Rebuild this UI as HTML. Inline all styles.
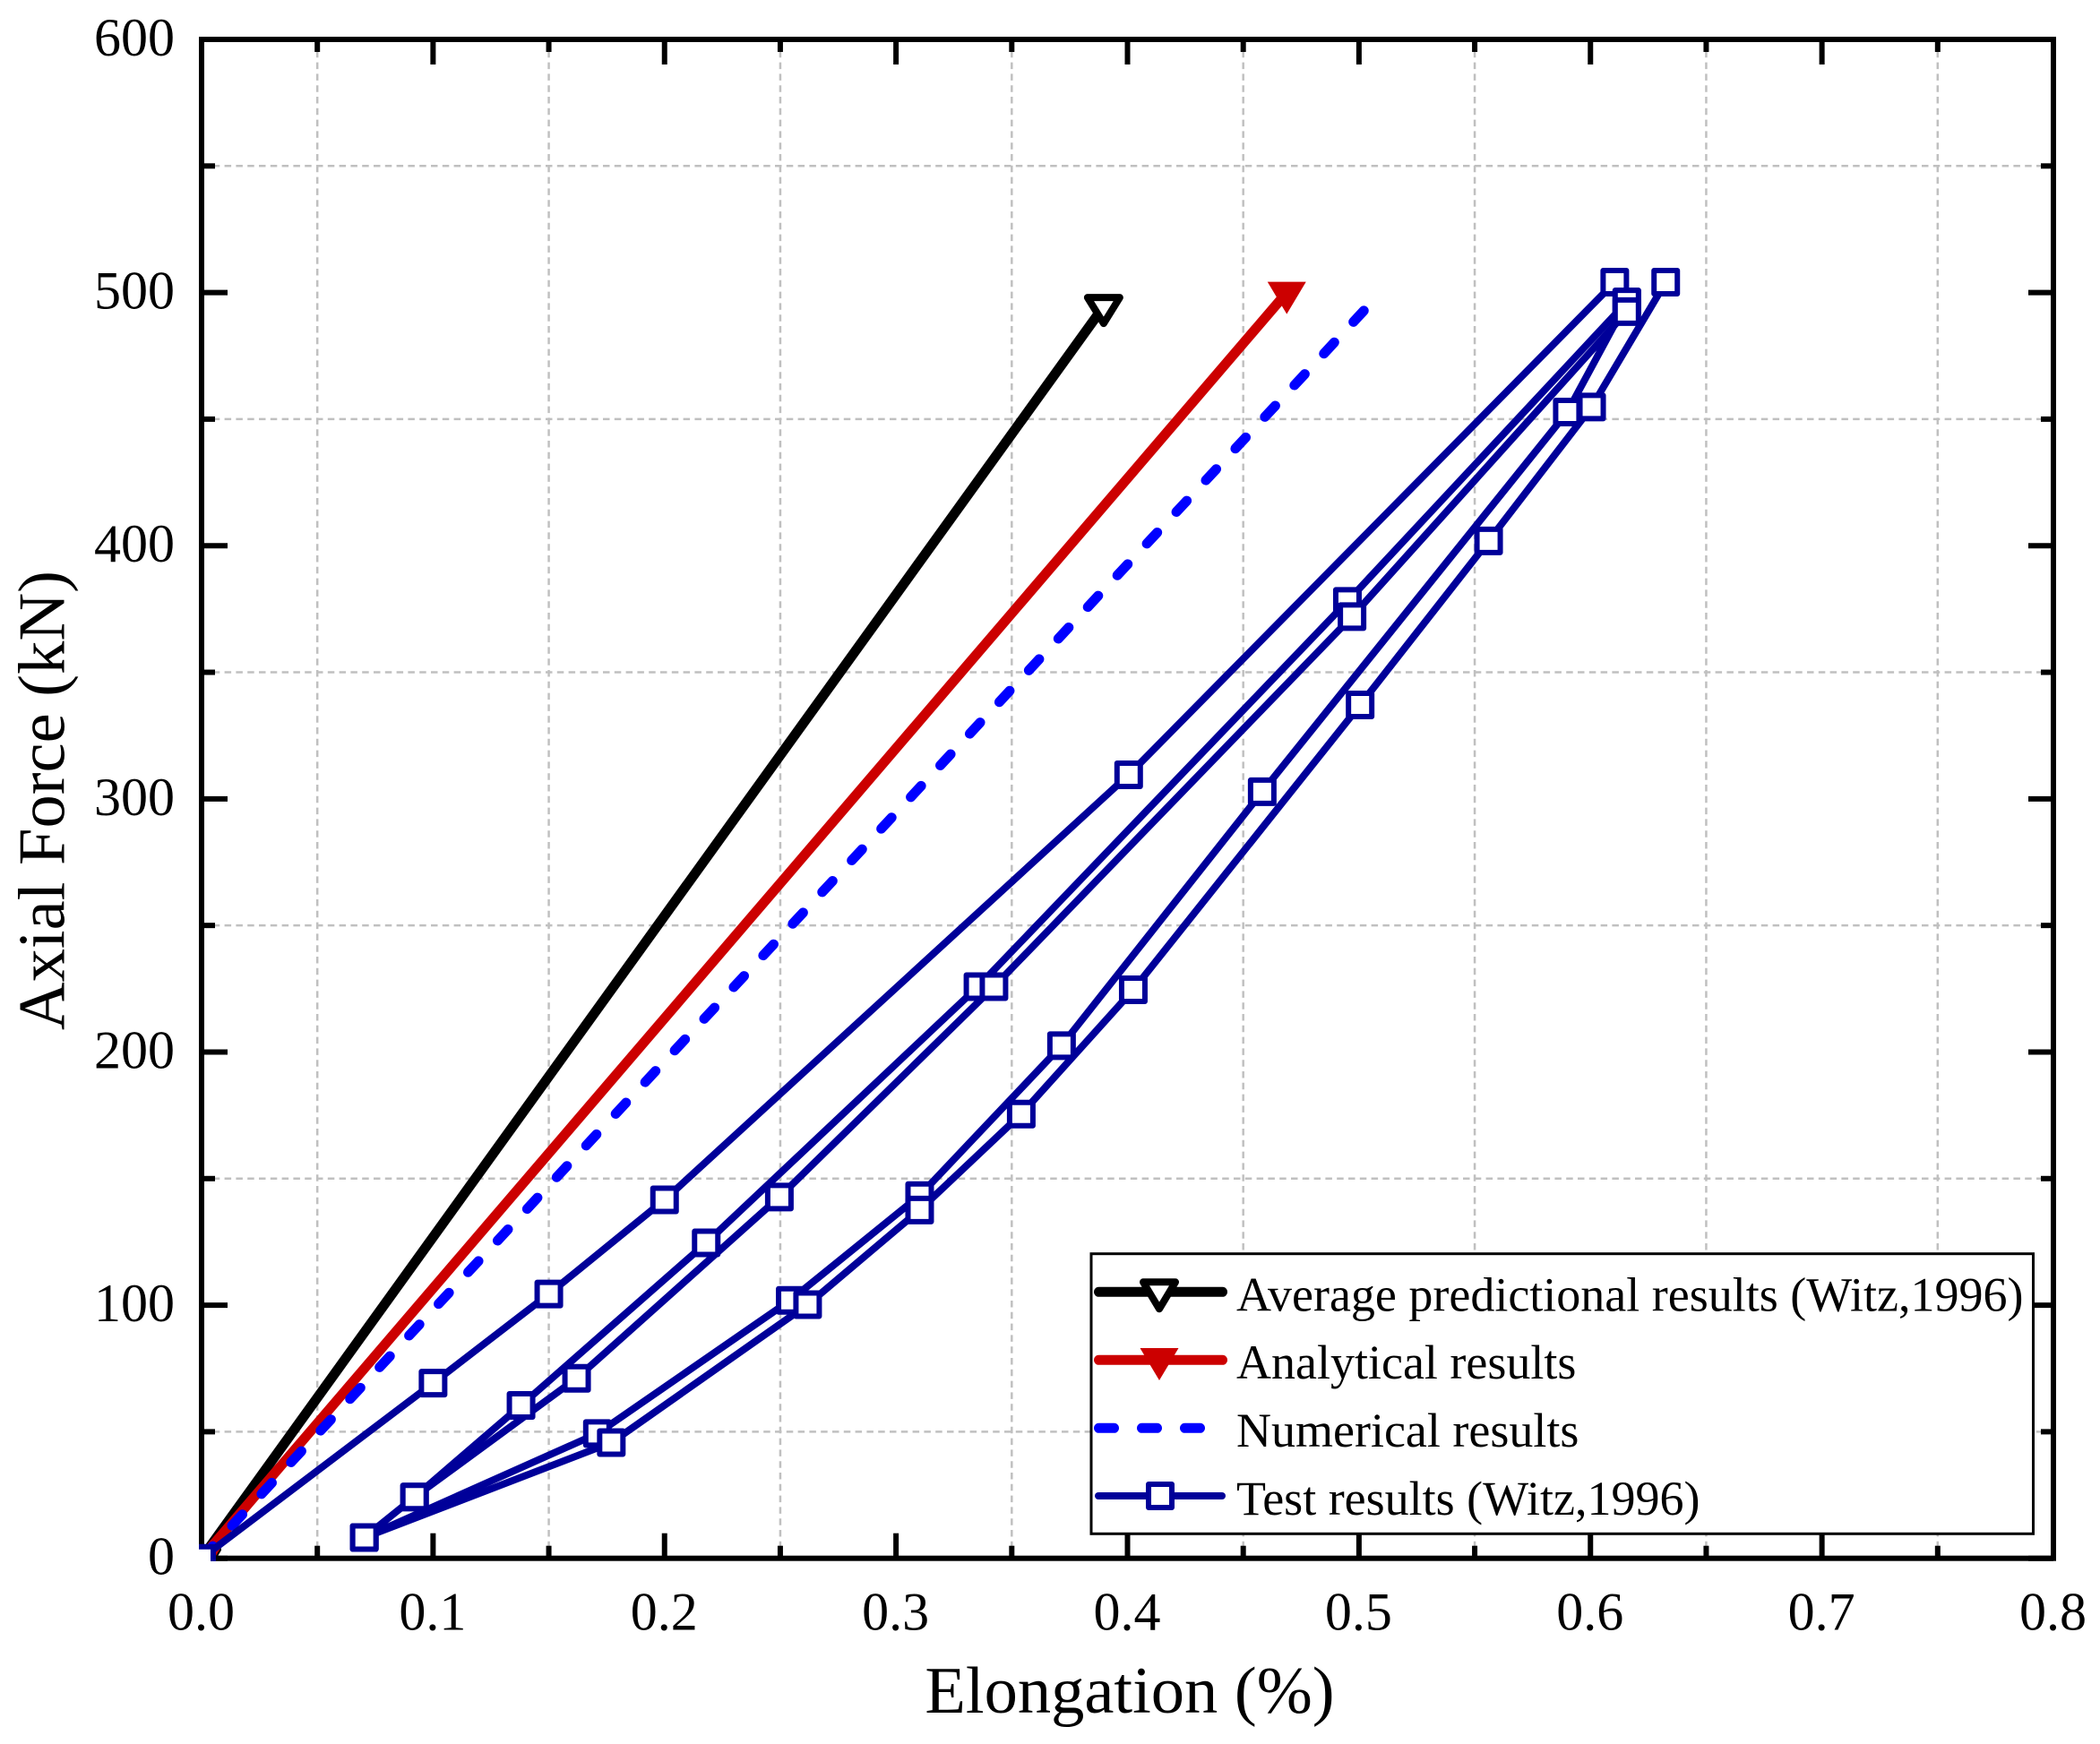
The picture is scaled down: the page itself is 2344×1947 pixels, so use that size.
<!DOCTYPE html>
<html lang="en">
<head>
<meta charset="utf-8">
<title>Axial Force vs Elongation</title>
<style>
html,body{margin:0;padding:0;background:#fff;}
svg{display:block;}
text{font-family:"Liberation Serif","Times New Roman",serif;fill:#000;}
</style>
</head>
<body>
<svg id="chart" xmlns="http://www.w3.org/2000/svg" width="2344" height="1947" viewBox="0 0 2344 1947">
  <defs>
    <clipPath id="plot-clip"><rect x="222" y="41" width="2073" height="1702"/></clipPath>
  </defs>
  <rect x="0" y="0" width="2344" height="1947" fill="#ffffff"/>
  <g id="grid"></g>
  <g id="ticks"></g>
  <rect x="225" y="44" width="2067" height="1695.7" fill="none" stroke="#000" stroke-width="6"/>
  <g id="tick-labels" font-size="60"></g>
  <g id="series" clip-path="url(#plot-clip)"></g>
  <text x="1261" y="1912" font-size="74.5" text-anchor="middle">Elongation (%)</text>
  <text x="0" y="0" font-size="74.5" text-anchor="middle" transform="translate(71.7 893.6) rotate(-90)">Axial Force (kN)</text>

  <g>
    <rect x="1218" y="1399.7" width="1051.5" height="312.6" fill="#fff" stroke="#000" stroke-width="3"/>
    <g>
      <line x1="1226.5" y1="1442.3" x2="1364.5" y2="1442.3" stroke="#000" stroke-width="11" stroke-linecap="round"/>
      <polygon points="1276,1431.3 1312,1431.3 1294,1461.3" fill="#fff" stroke="#000" stroke-width="8" stroke-linejoin="round"/>
      <text x="1380" y="1463.3" font-size="54">Average predictional results (Witz,1996)</text>
    </g>
    <g>
      <line x1="1226.5" y1="1518.3" x2="1364.5" y2="1518.3" stroke="#cc0000" stroke-width="11" stroke-linecap="round"/>
      <polygon points="1272.5,1505 1315.5,1505 1294,1541" fill="#cc0000"/>
      <text x="1380" y="1539" font-size="54">Analytical results</text>
    </g>
    <g>
      <line x1="1226.5" y1="1594.3" x2="1370" y2="1594.3" stroke="#0000ff" stroke-width="11" stroke-linecap="round" stroke-dasharray="17 31"/>
      <text x="1380" y="1615" font-size="54">Numerical results</text>
    </g>
    <g>
      <line x1="1226" y1="1670" x2="1364" y2="1670" stroke="#000099" stroke-width="8" stroke-linecap="round"/>
      <rect x="1282" y="1657" width="26" height="26" fill="#fff" stroke="#000099" stroke-width="6" stroke-linejoin="round"/>
      <text x="1380" y="1691" font-size="54">Test results (Witz,1996)</text>
    </g>
  </g>
</svg>

<script>
/* Chart data */
const xMajorTicks = ["0.0", "0.1", "0.2", "0.3", "0.4", "0.5", "0.6", "0.7", "0.8"];
const yMajorTicks = ["0", "100", "200", "300", "400", "500", "600"];
const xMinorTicks = [0.05, 0.15, 0.25, 0.35, 0.45, 0.55, 0.65, 0.75];
const yMinorTicks = [50, 150, 250, 350, 450, 550];

const averageX = [0, 0.3897];
const averageY = [0, 494.5];
const analyticalX = [0, 0.4688];
const analyticalY = [0, 500];
const numericalX = [0, 0.5043];
const numericalY = [0, 495];

const testFirstLoadX = [0, 0.1, 0.15, 0.2, 0.4005, 0.6105];
const testFirstLoadY = [0, 69.2, 104.4, 141.6, 309.5, 504.1];
const testReloadX = [0.0703, 0.171, 0.2543, 0.3102, 0.3715, 0.4582, 0.59, 0.6157];
const testReloadY = [8.2, 49.3, 101.9, 143.3, 202.5, 302.8, 452.8, 496.3];
const testUnloadX = [0.6325, 0.6005, 0.556, 0.5005, 0.4025, 0.3541, 0.3102, 0.2618, 0.177, 0.0703];
const testUnloadY = [504.1, 454.8, 401.9, 337.1, 224.6, 175.5, 137.6, 100.2, 45.7, 8.2];
const testUpperLoopX = [0.0703, 0.092, 0.138, 0.218, 0.3354, 0.495, 0.6157];
const testUpperLoopY = [8.2, 24.2, 60.4, 124.6, 225.8, 378, 496.3];
const testLowerLoopX = [0.092, 0.162, 0.2496, 0.3423, 0.497, 0.6157];
const testLowerLoopY = [24.2, 71.1, 142.7, 225.8, 372, 492.5];

/* Axis functions */
const NS = "http://www.w3.org/2000/svg";
const plotLeft = 225, plotRight = 2292, plotTop = 44, plotBottom = 1739.7;
function sx(v) { return plotLeft + (v / 0.8) * (plotRight - plotLeft); }
function sy(v) { return plotBottom - (v / 600) * (plotBottom - plotTop); }
function make(tag, parent, attrs) {
  const el = document.createElementNS(NS, tag);
  for (const k in attrs) el.setAttribute(k, attrs[k]);
  parent.appendChild(el);
  return el;
}

const gridG = document.getElementById("grid");
const ticksG = document.getElementById("ticks");
const labelsG = document.getElementById("tick-labels");
const seriesG = document.getElementById("series");

const gridStyle = { stroke: "#c0c0c0", "stroke-width": 2.5, "stroke-dasharray": "7.5 5.3" };
xMinorTicks.forEach(function (v) {
  const g = make("line", gridG, Object.assign({ x1: sx(v), x2: sx(v), y1: plotTop, y2: plotBottom }, gridStyle));
  
  
  [[plotBottom, plotBottom - 14], [plotTop, plotTop + 14]].forEach(function (p) {
    const t = make("line", ticksG, { x1: sx(v), x2: sx(v), y1: p[0], y2: p[1], stroke: "#000", "stroke-width": 6 });
    
    
  });
});
yMinorTicks.forEach(function (v) {
  const g = make("line", gridG, Object.assign({ x1: plotLeft, x2: plotRight, y1: sy(v), y2: sy(v) }, gridStyle));
  
  
  [[plotLeft, plotLeft + 15], [plotRight, plotRight - 14]].forEach(function (p) {
    const t = make("line", ticksG, { x1: p[0], x2: p[1], y1: sy(v), y2: sy(v), stroke: "#000", "stroke-width": 6 });
    
    
  });
});
xMajorTicks.forEach(function (label) {
  const v = parseFloat(label);
  [[plotBottom, plotBottom - 28], [plotTop, plotTop + 28]].forEach(function (p) {
    const t = make("line", ticksG, { x1: sx(v), x2: sx(v), y1: p[0], y2: p[1], stroke: "#000", "stroke-width": 6 });
    
    
  });
  const txt = make("text", labelsG, { x: sx(v) - 0.5, y: 1819.5, "text-anchor": "middle" });
  txt.textContent = label;
  
  
});
yMajorTicks.forEach(function (label) {
  const v = parseFloat(label);
  [[plotLeft, plotLeft + 29], [plotRight, plotRight - 28]].forEach(function (p) {
    const t = make("line", ticksG, { x1: p[0], x2: p[1], y1: sy(v), y2: sy(v), stroke: "#000", "stroke-width": 6 });
    
    
  });
  const txt = make("text", labelsG, { x: 195, y: sy(v) + 18, "text-anchor": "end" });
  txt.textContent = label;
  
  
});

function pointsOf(xs, ys) {
  return xs.map(function (x, i) { return sx(x) + "," + sy(ys[i]); }).join(" ");
}
function triangle(cx, cy, scaleTop, halfW, apex) {
  return (cx - halfW) + "," + (cy + scaleTop) + " " + (cx + halfW) + "," + (cy + scaleTop) + " " + cx + "," + (cy + apex);
}

/* Average predictional series */
const avgLine = make("polyline", seriesG, { points: pointsOf(averageX, averageY), fill: "none", stroke: "#000", "stroke-width": 11 });


averageX.forEach(function (x, i) {
  const m = make("polygon", seriesG, { points: triangle(sx(x), sy(averageY[i]), -10, 18, 19), fill: "#fff", stroke: "#000", "stroke-width": 8, "stroke-linejoin": "round" });
  
  
});

/* Analytical series */
const anaLine = make("polyline", seriesG, { points: pointsOf(analyticalX, analyticalY), fill: "none", stroke: "#cc0000", "stroke-width": 11 });


analyticalX.forEach(function (x, i) {
  const m = make("polygon", seriesG, { points: triangle(sx(x), sy(analyticalY[i]), -12, 21.5, 24), fill: "#cc0000" });
  
  
});

/* Numerical series */
const numLine = make("polyline", seriesG, { points: pointsOf(numericalX, numericalY), fill: "none", stroke: "#0000ff", "stroke-width": 11, "stroke-linecap": "round", "stroke-dasharray": "17 31.33", "stroke-dashoffset": "-1.5" });



/* Test series */
const testSegments = [
  [testFirstLoadX, testFirstLoadY],
  [testReloadX, testReloadY],
  [testUnloadX, testUnloadY],
  [testUpperLoopX, testUpperLoopY],
  [testLowerLoopX, testLowerLoopY]
];
testSegments.forEach(function (seg) {
  const l = make("polyline", seriesG, { points: pointsOf(seg[0], seg[1]), fill: "none", stroke: "#000099", "stroke-width": 8, "stroke-linejoin": "round" });
  
  
});
testSegments.forEach(function (seg) {
  seg[0].forEach(function (x, i) {
    const m = make("rect", seriesG, { x: sx(x) - 13, y: sy(seg[1][i]) - 13, width: 26, height: 26, fill: "#fff", stroke: "#000099", "stroke-width": 6, "stroke-linejoin": "round" });
    
    
  });
});
</script>
</body>
</html>
